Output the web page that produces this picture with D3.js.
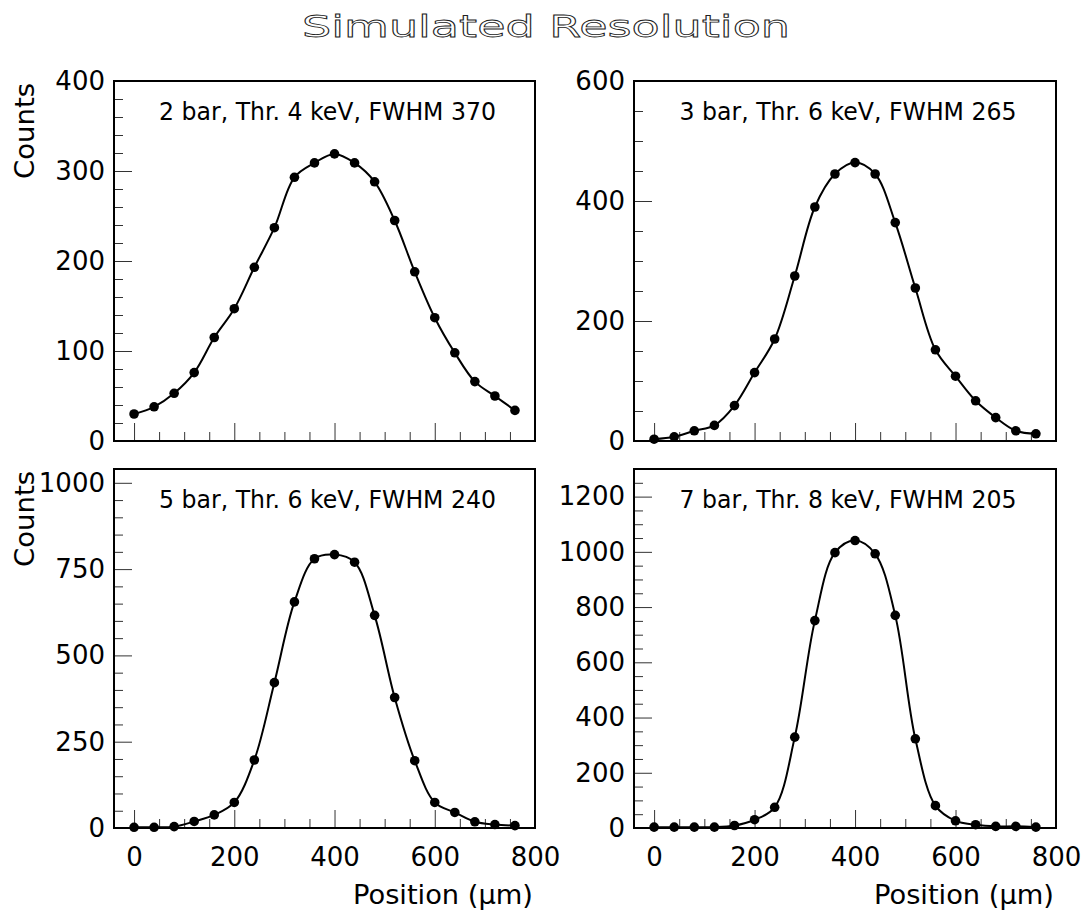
<!DOCTYPE html>
<html lang="en">
<head>
<meta charset="utf-8">
<title>Simulated Resolution</title>
<script src="https://cdn.jsdelivr.net/npm/d3@7/dist/d3.min.js"></script>
<style>
  body { margin: 0; background: #fff; }
  svg text { font-family: "DejaVu Sans", sans-serif; fill: #000; }
</style>
</head>
<body>
<script>
// x positions of the simulated points (um)
var positions = [0, 40, 80, 120, 160, 200, 240, 280, 320, 360,
                 400, 440, 480, 520, 560, 600, 640, 680, 720, 760];

// counts
var counts2bar = [30, 38, 53, 76, 115, 147, 193, 237, 293, 309,
                  319, 309, 288, 245, 188, 137, 98, 66, 50, 34];
var counts3bar = [3, 7, 17, 26, 59, 114, 170, 275, 390, 445,
                  464, 445, 364, 255, 152, 108, 67, 39, 17, 12];
var counts5bar = [2, 2, 4, 19, 38, 74, 197, 421, 655, 780,
                  792, 770, 616, 378, 195, 74, 45, 18, 10, 7];
var counts7bar = [3, 3, 3, 3, 9, 30, 75, 329, 751, 997,
                  1041, 993, 770, 323, 81, 26, 12, 6, 6, 3];

var panelLabels = ["2 bar, Thr. 4 keV, FWHM 370", "3 bar, Thr. 6 keV, FWHM 265",
                   "5 bar, Thr. 6 keV, FWHM 240", "7 bar, Thr. 8 keV, FWHM 205"];
var yMax = [400, 600, 1040, 1300];
var yMajorStep = [100, 200, 250, 200];
var yMinorStep = [20, 50, 50, 50];
var xMajorTicks = [0, 200, 400, 600, 800];
var xDomain = [-40, 800];

var series = [counts2bar, counts3bar, counts5bar, counts7bar];

var w = 1083, h = 917;
var svg = d3.select("body").append("svg")
    .attr("width", w)
    .attr("height", h);

// title, drawn as hollow letters
svg.append("text")
    .attr("x", 302).attr("y", 37)
    .attr("font-size", 31)
    .attr("textLength", 488)
    .attr("lengthAdjust", "spacingAndGlyphs")
    .style("fill", "#fff")
    .style("stroke", "#222")
    .style("stroke-width", 0.8)
    .text("Simulated Resolution");

// frame boxes [left, top, right, bottom]
var frames = [[114, 81, 535, 441], [634, 81, 1056, 441],
              [114, 469, 535, 828], [634, 469, 1056, 828]];

frames.forEach(function(f, i) {
  var pw = f[2] - f[0], ph = f[3] - f[1];
  var g = svg.append("g").attr("transform", "translate(" + f[0] + "," + f[1] + ")");

  var x = d3.scaleLinear().domain(xDomain).range([0, pw]);
  var y = d3.scaleLinear().domain([0, yMax[i]]).range([ph, 0]);

  // y axis, ticks pointing inward
  var yMaj = d3.range(0, yMax[i] + 1, yMajorStep[i]);
  var yMin = d3.range(0, yMax[i], yMinorStep[i]).filter(function(v) { return v % yMajorStep[i] !== 0; });
  g.append("g")
    .call(d3.axisLeft(y).tickValues(yMin).tickSize(-9).tickFormat(""));
  g.append("g")
    .call(d3.axisLeft(y).tickValues(yMaj).tickSize(-18).tickPadding(9).tickFormat(d3.format("d")));

  // x axis, ticks pointing upward
  var xMin = d3.range(50, 800, 50).filter(function(v) { return v % 200 !== 0; });
  g.append("g")
    .attr("transform", "translate(0," + ph + ")")
    .call(d3.axisBottom(x).tickValues(xMin).tickSize(-9).tickFormat(""));
  var xa = g.append("g")
    .attr("transform", "translate(0," + ph + ")")
    .call(d3.axisBottom(x).tickValues(xMajorTicks).tickSize(-18).tickPadding(20).tickFormat(d3.format("d")));
  if (i < 2) xa.selectAll("text").remove();

  g.selectAll(".domain").remove();
  g.selectAll(".tick line").attr("stroke", "#333").attr("stroke-width", 1);
  g.selectAll(".tick text").attr("font-size", 26).attr("font-family", "DejaVu Sans, sans-serif");

  // clip for the curve
  g.append("clipPath").attr("id", "clip" + i)
    .append("rect").attr("width", pw).attr("height", ph);

  var pts = positions.map(function(p, k) { return [p, series[i][k]]; });
  var line = d3.line()
    .x(function(d) { return x(d[0]); })
    .y(function(d) { return y(d[1]); })
    .curve(d3.curveCatmullRom.alpha(0.5));

  g.append("path")
    .datum(pts)
    .attr("clip-path", "url(#clip" + i + ")")
    .attr("d", line)
    .attr("fill", "none")
    .attr("stroke", "#000")
    .attr("stroke-width", 2);

  g.selectAll("circle")
    .data(pts)
    .enter().append("circle")
    .attr("cx", function(d) { return x(d[0]); })
    .attr("cy", function(d) { return y(d[1]); })
    .attr("r", 4.8)
    .attr("fill", "#000");

  // frame
  g.append("rect")
    .attr("width", pw).attr("height", ph)
    .attr("fill", "none")
    .attr("stroke", "#000")
    .attr("stroke-width", 2);

  // panel annotation
  g.append("text")
    .attr("x", pw / 2 + 3).attr("y", 39)
    .attr("text-anchor", "middle")
    .attr("font-size", 24)
    .attr("textLength", 337)
    .attr("lengthAdjust", "spacingAndGlyphs")
    .text(panelLabels[i]);

  // axis titles
  if (i % 2 === 0) {
    g.append("text")
      .attr("transform", "translate(" + (-80) + "," + 2 + ") rotate(-90)")
      .attr("text-anchor", "end")
      .attr("font-size", 26)
      .attr("textLength", 96)
      .attr("lengthAdjust", "spacingAndGlyphs")
      .text("Counts");
  }
  if (i >= 2) {
    g.append("text")
      .attr("x", pw - 2).attr("y", 904 - f[1])
      .attr("text-anchor", "end")
      .attr("font-size", 26)
      .attr("textLength", 180)
      .attr("lengthAdjust", "spacingAndGlyphs")
      .text("Position (\u03bcm)");
  }
});
</script>
</body>
</html>
